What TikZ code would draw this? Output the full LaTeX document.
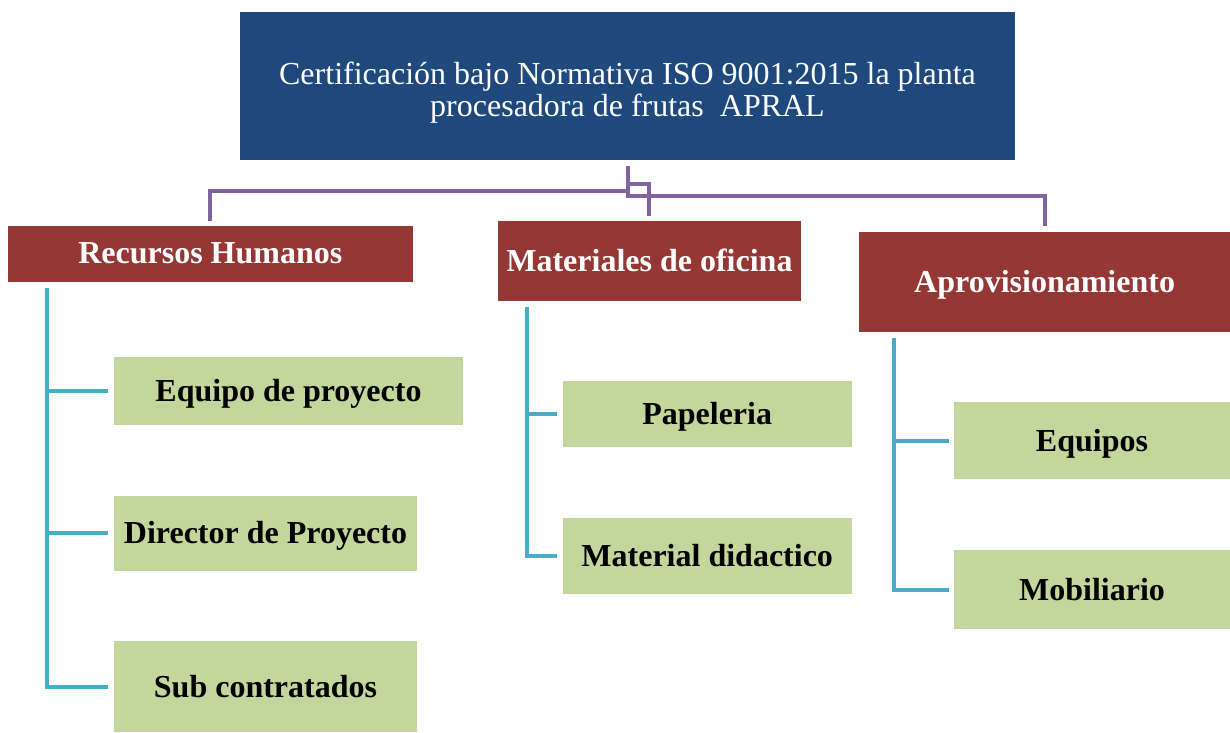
\documentclass[tikz,border=0pt]{standalone}
\usepackage{fontspec}
\setmainfont{Liberation Serif}
\definecolor{azulTit}{HTML}{1F497D}
\definecolor{rojoRec}{HTML}{953735}
\definecolor{verdeSub}{HTML}{C3D69B}
\definecolor{lilaCon}{HTML}{8064A2}
\definecolor{cianCon}{HTML}{4BACC6}
\begin{document}
\begin{tikzpicture}[x=0.75pt,y=-0.75pt,
  titulo/.style={fill=azulTit,text=white,align=center,inner sep=0pt,outer sep=0pt,
    text height=50pt,text depth=5pt,font=\fontsize{24}{24}\selectfont},
  recurso/.style={fill=rojoRec,text=white,inner sep=0pt,outer sep=0pt,
    text height=20pt,text depth=5pt,font=\fontsize{24}{24}\selectfont\bfseries},
  item/.style={fill=verdeSub,text=black,inner sep=0pt,outer sep=0pt,
    text height=21pt,text depth=5pt,font=\fontsize{24}{24}\selectfont\bfseries},
  lila/.style={draw=lilaCon,line width=3pt},
  cian/.style={draw=cianCon,line width=3pt}]
\useasboundingbox (0,0) rectangle (1230,732);
\node[titulo,minimum width=581.25pt,minimum height=111pt] (tit) at (627.5,86)
  {Certificación bajo Normativa ISO 9001:2015 la planta\\procesadora de frutas \ APRAL};
\node[recurso,minimum width=303.5pt,minimum height=41.8pt] (rh) at (210.3,253.8) {Recursos Humanos};
\node[recurso,minimum width=227.5pt,minimum height=60pt] (mo) at (649.4,261) {Materiales de oficina};
\node[recurso,minimum width=278pt,minimum height=75.2pt] (ap) at (1044.6,282.2) {Aprovisionamiento};
\node[item,minimum width=261.75pt,minimum height=51pt] (eqp) at (288.5,391) {Equipo de proyecto};
\node[item,minimum width=227.25pt,minimum height=56.25pt] (dir) at (265.5,533.2) {Director de Proyecto};
\node[item,minimum width=227.25pt,minimum height=68.25pt] (sub) at (265.5,686.5) {Sub contratados};
\node[item,minimum width=216.75pt,minimum height=49.5pt] (pap) at (707.2,414.2) {Papeleria};
\node[item,minimum width=216.75pt,minimum height=57pt] (mat) at (707.2,556.3) {Material didactico};
\node[item,minimum width=207pt,minimum height=57.75pt] (eqs) at (1092,440.8) {Equipos};
\node[item,minimum width=207pt,minimum height=59.25pt] (mob) at (1092,589.5) {Mobiliario};
% conectores
\draw[lila] ([yshift=-4.5pt]tit.south) -- ++(0,24.7) -| ([yshift=3.75pt]rh.north);
\draw[lila] ([yshift=-4.5pt]tit.south) -- ++(0,18) -| ([yshift=3.75pt]mo.north);
\draw[lila] ([yshift=-4.5pt]tit.south) -- ++(0,29.7) -| ([yshift=4.5pt]ap.north);
\coordinate (rhbase) at (46.7,287.7);
\coordinate (mobase) at (526.7,306.7);
\coordinate (apbase) at (894.3,338);
\foreach \hijo in {eqp,dir,sub} {\draw[cian] (rhbase) |- ([xshift=-4.5pt]\hijo.west);}
\foreach \hijo in {pap,mat} {\draw[cian] (mobase) |- ([xshift=-4pt]\hijo.west);}
\foreach \hijo in {eqs,mob} {\draw[cian] (apbase) |- ([xshift=-4pt]\hijo.west);}
\end{tikzpicture}
\end{document}
